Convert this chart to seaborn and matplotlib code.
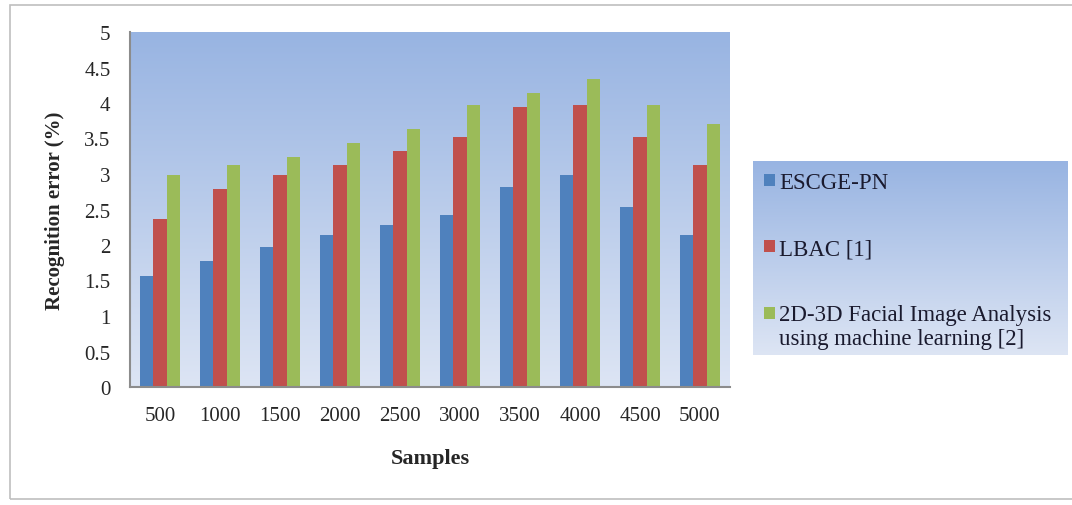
import numpy as np
import pandas as pd
import matplotlib.pyplot as plt
import seaborn as sns
from matplotlib.colors import LinearSegmentedColormap
from matplotlib.patches import Rectangle, Patch

# data
samples = ["500", "1000", "1500", "2000", "2500", "3000", "3500", "4000", "4500", "5000"]
escge_pn = [1.57, 1.77, 1.97, 2.14, 2.28, 2.42, 2.81, 2.99, 2.53, 2.14]
lbac = [2.37, 2.79, 2.99, 3.13, 3.32, 3.52, 3.94, 3.97, 3.52, 3.13]
facial_2d3d = [2.99, 3.13, 3.24, 3.43, 3.63, 3.97, 4.14, 4.34, 3.97, 3.71]
series_names = ["ESCGE-PN", "LBAC [1]", "2D-3D Facial Image Analysis\nusing machine learning [2]"]
y_ticks = [0, 0.5, 1, 1.5, 2, 2.5, 3, 3.5, 4, 4.5, 5]

df = pd.DataFrame({
    "Samples": samples * 3,
    "error": escge_pn + lbac + facial_2d3d,
    "method": np.repeat(series_names, len(samples)),
})

sns.set_style("white")
plt.rcParams["font.family"] = ["Liberation Serif", "DejaVu Serif"]

fig = plt.figure(figsize=(10.72, 5.06), dpi=100)
ax = fig.add_axes([130 / 1072, 1 - 388 / 506, 600 / 1072, 355 / 506])

grad = LinearSegmentedColormap.from_list("bg", ["#dde5f4", "#98b4e2"])
ax.imshow(np.linspace(0, 1, 256).reshape(-1, 1), cmap=grad, origin="lower",
          extent=[0, 1, 0, 1], transform=ax.transAxes, aspect="auto", zorder=0)

palette = ["#4f81bd", "#c0504d", "#9bbb59"]
sns.barplot(data=df, x="Samples", y="error", hue="method", palette=palette,
            width=0.67, saturation=1, linewidth=0, edgecolor="none",
            ax=ax, zorder=2)

ax.set_ylim(0, 5)
ax.set_xlim(-0.5, 9.5)
ax.set_yticks(y_ticks)
ax.set_yticklabels([f"{t:g}" for t in y_ticks], fontsize=15)
ax.tick_params(axis="x", labelsize=15, pad=14)
ax.tick_params(axis="y", pad=14)
ax.tick_params(length=0)
ax.set_xlabel("Samples", fontsize=16, fontweight="bold", labelpad=16)
ax.set_ylabel("Recognition error (%)", fontsize=15, fontweight="bold", labelpad=14)
for s in ["top", "right"]:
    ax.spines[s].set_visible(False)
for s in ["left", "bottom"]:
    ax.spines[s].set_color("#8c8c8c")
    ax.spines[s].set_linewidth(1.5)

ax.get_legend().remove()
handles = [Patch(facecolor=c, edgecolor="none") for c in palette]

# legend box with its own gradient
lax = fig.add_axes([753 / 1072, 1 - 356 / 506, 315 / 1072, 194 / 506])
lax.imshow(np.linspace(0, 1, 256).reshape(-1, 1), cmap=grad, origin="lower",
           extent=[0, 1, 0, 1], aspect="auto")
lax.set_axis_off()
leg = lax.legend(handles, series_names, loc="upper left", bbox_to_anchor=(0.0, 1.0),
                 frameon=False, fontsize=16.5, handlelength=0.45, handleheight=0.45,
                 handletextpad=0.2, labelspacing=1.95, borderaxespad=0.1,
                 labelcolor="#1a1a2e")
# put the marker of the two-line entry next to its first line
h3 = leg.legend_handles[2]
h3.set_y(h3.get_y() + 9.5)

fig.patches.append(Rectangle((10 / 1072, 6 / 506), 1.0, 494 / 506, transform=fig.transFigure,
                             fill=False, edgecolor="#bfbfbf", linewidth=1.2))

fig.savefig("out.png", dpi=100)
